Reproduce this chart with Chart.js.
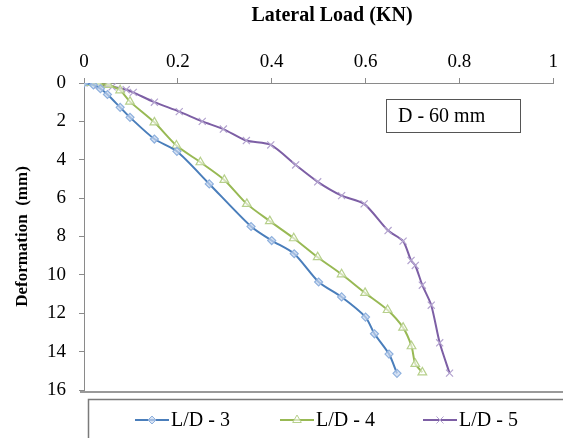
<!DOCTYPE html>
<html>
<head>
<meta charset="utf-8">
<script src="https://cdn.jsdelivr.net/npm/chart.js@4.4.0/dist/chart.umd.min.js"></script>
<style>
  html, body { margin: 0; padding: 0; background: #fff; }
  #wrap { width: 563px; height: 438px; position: relative; }
</style>
</head>
<body>
<div id="wrap"><canvas id="chart"></canvas></div>
<script>
// Datos
const xTickLabels = ['0', '0.2', '0.4', '0.6', '0.8', '1'];
const yTickLabels = ['0', '2', '4', '6', '8', '10', '12', '14', '16'];
const seriesNames = ['L/D - 3', 'L/D - 4', 'L/D - 5'];

const load3 = [0, 0.02, 0.035, 0.05, 0.077, 0.098, 0.15, 0.198, 0.267, 0.356, 0.4, 0.448, 0.5, 0.549, 0.6, 0.619, 0.65, 0.667];
const defl3 = [0, 0.1, 0.3, 0.6, 1.27, 1.79, 2.92, 3.56, 5.26, 7.48, 8.21, 8.9, 10.37, 11.15, 12.2, 13.07, 14.13, 15.13];

const load4 = [0, 0.01, 0.031, 0.052, 0.077, 0.098, 0.15, 0.197, 0.248, 0.299, 0.347, 0.396, 0.447, 0.498, 0.549, 0.599, 0.647, 0.68, 0.698, 0.706, 0.721];
const defl4 = [0, 0, 0.05, 0.1, 0.38, 0.97, 2.05, 3.26, 4.13, 5.05, 6.3, 7.2, 8.09, 9.08, 9.97, 10.94, 11.83, 12.75, 13.72, 14.64, 15.08];

const load5 = [0, 0.03, 0.06, 0.09, 0.105, 0.15, 0.203, 0.252, 0.297, 0.346, 0.398, 0.451, 0.498, 0.549, 0.597, 0.648, 0.68, 0.697, 0.706, 0.721, 0.74, 0.758, 0.779];
const defl5 = [0, 0.1, 0.2, 0.35, 0.49, 1.0, 1.49, 2.0, 2.4, 3.0, 3.23, 4.27, 5.15, 5.87, 6.3, 7.69, 8.24, 9.25, 9.51, 10.54, 11.58, 13.54, 15.12];

const SERIF = '"Liberation Serif", "Times New Roman", serif';
const pts = (xs, ys) => xs.map((x, i) => ({ x, y: ys[i] }));

// Títulos, caja de leyenda y recuadro "D - 60 mm"
const extras = {
    id: 'extras',
    afterDraw(chart) {
        const ctx = chart.ctx;
        const area = chart.chartArea;
        ctx.save();

        // título del eje X
        ctx.fillStyle = '#000';
        ctx.font = 'bold 20px ' + SERIF;
        ctx.textAlign = 'center';
        ctx.textBaseline = 'middle';
        ctx.fillText('Lateral Load (KN)', 332, 16);

        // línea inferior del área
        ctx.strokeStyle = '#9a9a9a';
        ctx.lineWidth = 2;
        ctx.beginPath();
        ctx.moveTo(80, area.bottom + 2);
        ctx.lineTo(563, area.bottom + 2);
        ctx.stroke();

        // caja de leyenda
        ctx.strokeStyle = '#7a7a7a';
        ctx.lineWidth = 1.5;
        ctx.strokeRect(88.5, 399.5, 490, 60);

        ctx.font = '20px ' + SERIF;
        ctx.textAlign = 'left';
        const starts = [135, 280, 423];
        chart.data.datasets.forEach((ds, i) => {
            const x0 = starts[i], y0 = 420;
            ctx.strokeStyle = ds.borderColor;
            ctx.lineWidth = 2;
            ctx.beginPath();
            ctx.moveTo(x0, y0);
            ctx.lineTo(x0 + 34, y0);
            ctx.stroke();
            ctx.fillStyle = ds.pointBackgroundColor;
            ctx.strokeStyle = ds.pointBorderColor;
            ctx.lineWidth = 1;
            Chart.helpers.drawPoint(ctx, { pointStyle: ds.pointStyle, radius: ds.pointRadius, rotation: 0, borderWidth: 1 }, x0 + 17, y0);
            ctx.fillStyle = '#000';
            ctx.fillText(ds.label, x0 + 36, y0 + 1);
        });

        // recuadro de anotación
        ctx.fillStyle = '#fff';
        ctx.fillRect(386, 99, 134, 34);
        ctx.strokeStyle = '#555';
        ctx.lineWidth = 1;
        ctx.strokeRect(386.5, 99.5, 134, 33);
        ctx.fillStyle = '#000';
        ctx.font = '20px ' + SERIF;
        ctx.fillText('D - 60 mm', 398, 117);

        ctx.restore();
    }
};

new Chart(document.getElementById('chart'), {
    type: 'scatter',
    data: {
        datasets: [{
            label: seriesNames[0],
            data: pts(load3, defl3),
            borderColor: '#4a7ebb',
            pointStyle: 'rectRot',
            pointRadius: 4,
            pointBorderColor: '#8fb1de',
            pointBackgroundColor: 'rgba(200,215,240,0.7)',
        }, {
            label: seriesNames[1],
            data: pts(load4, defl4),
            borderColor: '#98b954',
            pointStyle: 'triangle',
            pointRadius: 5,
            pointBorderColor: '#b7d08c',
            pointBackgroundColor: 'rgba(255,255,255,0.6)',
        }, {
            label: seriesNames[2],
            data: pts(load5, defl5),
            borderColor: '#7d5fa5',
            pointStyle: 'crossRot',
            pointRadius: 5,
            pointBorderColor: '#b3a3cf',
            pointBackgroundColor: '#b3a3cf',
        }].map(d => Object.assign(d, { showLine: true, borderWidth: 2, tension: 0.25, pointBorderWidth: 1.2, pointHoverRadius: 5 }))
    },
    options: {
        responsive: true,
        maintainAspectRatio: false,
        animation: false,
        layout: { padding: { top: 0, right: 1, bottom: 48, left: 0 } },
        plugins: { legend: { display: false }, tooltip: { enabled: false } },
        scales: {
            x: {
                type: 'linear',
                position: 'top',
                min: 0, max: 1,
                afterFit: s => { s.height = 83; },
                ticks: {
                    stepSize: 0.2,
                    color: '#000',
                    padding: 5,
                    font: { family: SERIF, size: 19 },
                    callback: v => xTickLabels[Math.round(v / 0.2)]
                },
                grid: { drawOnChartArea: false, tickLength: 5, color: '#8a8a8a' },
                border: { color: '#8a8a8a', width: 1 }
            },
            y: {
                reverse: true,
                min: 0, max: 16,
                afterFit: s => { s.width = 84; },
                ticks: {
                    stepSize: 2,
                    color: '#000',
                    padding: 13,
                    font: { family: SERIF, size: 19 },
                    callback: v => yTickLabels[Math.round(v / 2)]
                },
                title: {
                    display: true,
                    text: 'Deformation  (mm)',
                    color: '#000',
                    font: { family: SERIF, size: 17, weight: 'bold' },
                    padding: { top: 12, bottom: 0 }
                },
                grid: { drawOnChartArea: false, tickLength: 5, color: '#8a8a8a' },
                border: { color: '#8a8a8a', width: 1 }
            }
        }
    },
    plugins: [extras]
});
</script>
</body>
</html>
